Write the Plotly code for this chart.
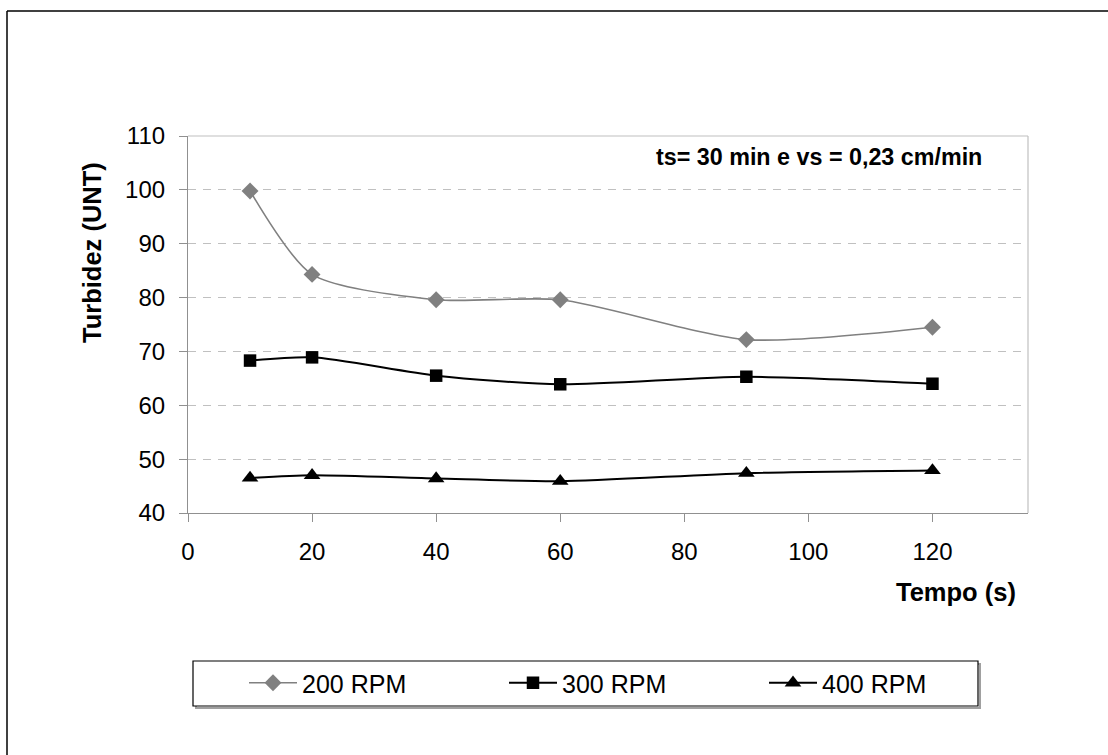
import plotly.graph_objects as go

# ---- data ----
tempo = [10, 20, 40, 60, 90, 120]
rpm200 = [99.8, 84.3, 79.6, 79.6, 72.2, 74.5]
rpm300 = [68.3, 68.9, 65.5, 63.9, 65.3, 64.0]
rpm400 = [46.5, 47.0, 46.4, 45.9, 47.4, 47.9]
series_names = ["200 RPM", "300 RPM", "400 RPM"]

W, H = 1108, 755
L, R, T, B = 188, 80, 136, 242
PW, PH = W - L - R, H - T - B


def px(x):
    return (x - L) / PW


def py(y):
    return (H - B - y) / PH


FONT = "Liberation Sans, Arial, sans-serif"
SMOOTH = 0.7

fig = go.Figure()
fig.add_trace(go.Scatter(
    x=tempo, y=rpm200, name=series_names[0], mode="lines+markers",
    line=dict(color="#808080", width=1.6, shape="spline", smoothing=SMOOTH),
    marker=dict(symbol="diamond", size=13, color="#808080"),
))
fig.add_trace(go.Scatter(
    x=tempo, y=rpm300, name=series_names[1], mode="lines+markers",
    line=dict(color="#000000", width=2, shape="spline", smoothing=SMOOTH),
    marker=dict(symbol="square", size=12.5, color="#000000"),
))
fig.add_trace(go.Scatter(
    x=tempo, y=rpm400, name=series_names[2], mode="lines+markers",
    line=dict(color="#000000", width=2, shape="spline", smoothing=SMOOTH),
    marker=dict(symbol="triangle-up", size=14.5, color="#000000"),
))

shapes = [
    # plot area border (top/right light grey)
    dict(type="line", xref="paper", yref="paper", x0=0, x1=1, y0=1, y1=1,
         line=dict(color="#c0c0c0", width=1.2)),
    dict(type="line", xref="paper", yref="paper", x0=1, x1=1, y0=0, y1=1,
         line=dict(color="#c0c0c0", width=1.2)),
    # outer chart frame (only left and top visible)
    dict(type="line", xref="paper", yref="paper", x0=px(7), x1=px(1130),
         y0=py(11), y1=py(11), line=dict(color="#000000", width=1.5)),
    dict(type="line", xref="paper", yref="paper", x0=px(7), x1=px(7),
         y0=py(11), y1=py(780), line=dict(color="#000000", width=1.5)),
    # legend shadow and box
    dict(type="rect", xref="paper", yref="paper", x0=px(196), x1=px(980),
         y0=py(708), y1=py(664), line=dict(color="#a0a0a0", width=2),
         fillcolor="rgba(0,0,0,0)", layer="below"),
    dict(type="rect", xref="paper", yref="paper", x0=px(193), x1=px(978),
         y0=py(706), y1=py(661), line=dict(color="#000000", width=1.2),
         fillcolor="#ffffff", layer="below"),
]

annotations = [
    dict(text="<b>ts= 30 min e vs = 0,23 cm/min</b>", xref="paper", yref="paper",
         x=px(819), y=py(157), showarrow=False, xanchor="center", yanchor="middle",
         font=dict(family=FONT, size=23.3, color="#000000")),
    dict(text="<b>Tempo (s)</b>", xref="paper", yref="paper",
         x=px(956), y=py(592), showarrow=False, xanchor="center", yanchor="middle",
         font=dict(family=FONT, size=25.5, color="#000000")),
    dict(text="<b>Turbidez (UNT)</b>", xref="paper", yref="paper",
         x=px(92), y=py(253), showarrow=False, xanchor="center", yanchor="middle",
         textangle=-90, font=dict(family=FONT, size=25.5, color="#000000")),
]

fig.update_layout(
    width=W, height=H,
    margin=dict(l=L, r=R, t=T, b=B, pad=0),
    paper_bgcolor="#ffffff", plot_bgcolor="#ffffff",
    font=dict(family=FONT, size=23, color="#000000"),
    showlegend=True,
    legend=dict(orientation="h", x=px(244), y=py(683), xanchor="left", yanchor="middle",
                bgcolor="rgba(0,0,0,0)", borderwidth=0,
                font=dict(family=FONT, size=25, color="#000000"),
                entrywidth=197, entrywidthmode="pixels", itemwidth=48),
    shapes=shapes,
    annotations=annotations,
)

fig.update_xaxes(
    range=[0, 135.4], tick0=0, dtick=20, showgrid=False, zeroline=False,
    showline=True, linecolor="#909090", linewidth=1.2,
    ticks="outside", ticklen=8, tickcolor="#909090", tickwidth=1.2,
    ticklabelstandoff=9,
    tickfont=dict(family=FONT, size=24, color="#000000"),
)
fig.update_yaxes(
    range=[40, 110], tick0=40, dtick=10, showgrid=True, gridcolor="#c0c0c0",
    griddash="8px,7px", gridwidth=1, zeroline=False,
    showline=True, linecolor="#909090", linewidth=1.2,
    ticks="outside", ticklen=8, tickcolor="#909090", tickwidth=1.2,
    ticklabelstandoff=9,
    tickfont=dict(family=FONT, size=24, color="#000000"),
)

fig.write_html("out.html")
